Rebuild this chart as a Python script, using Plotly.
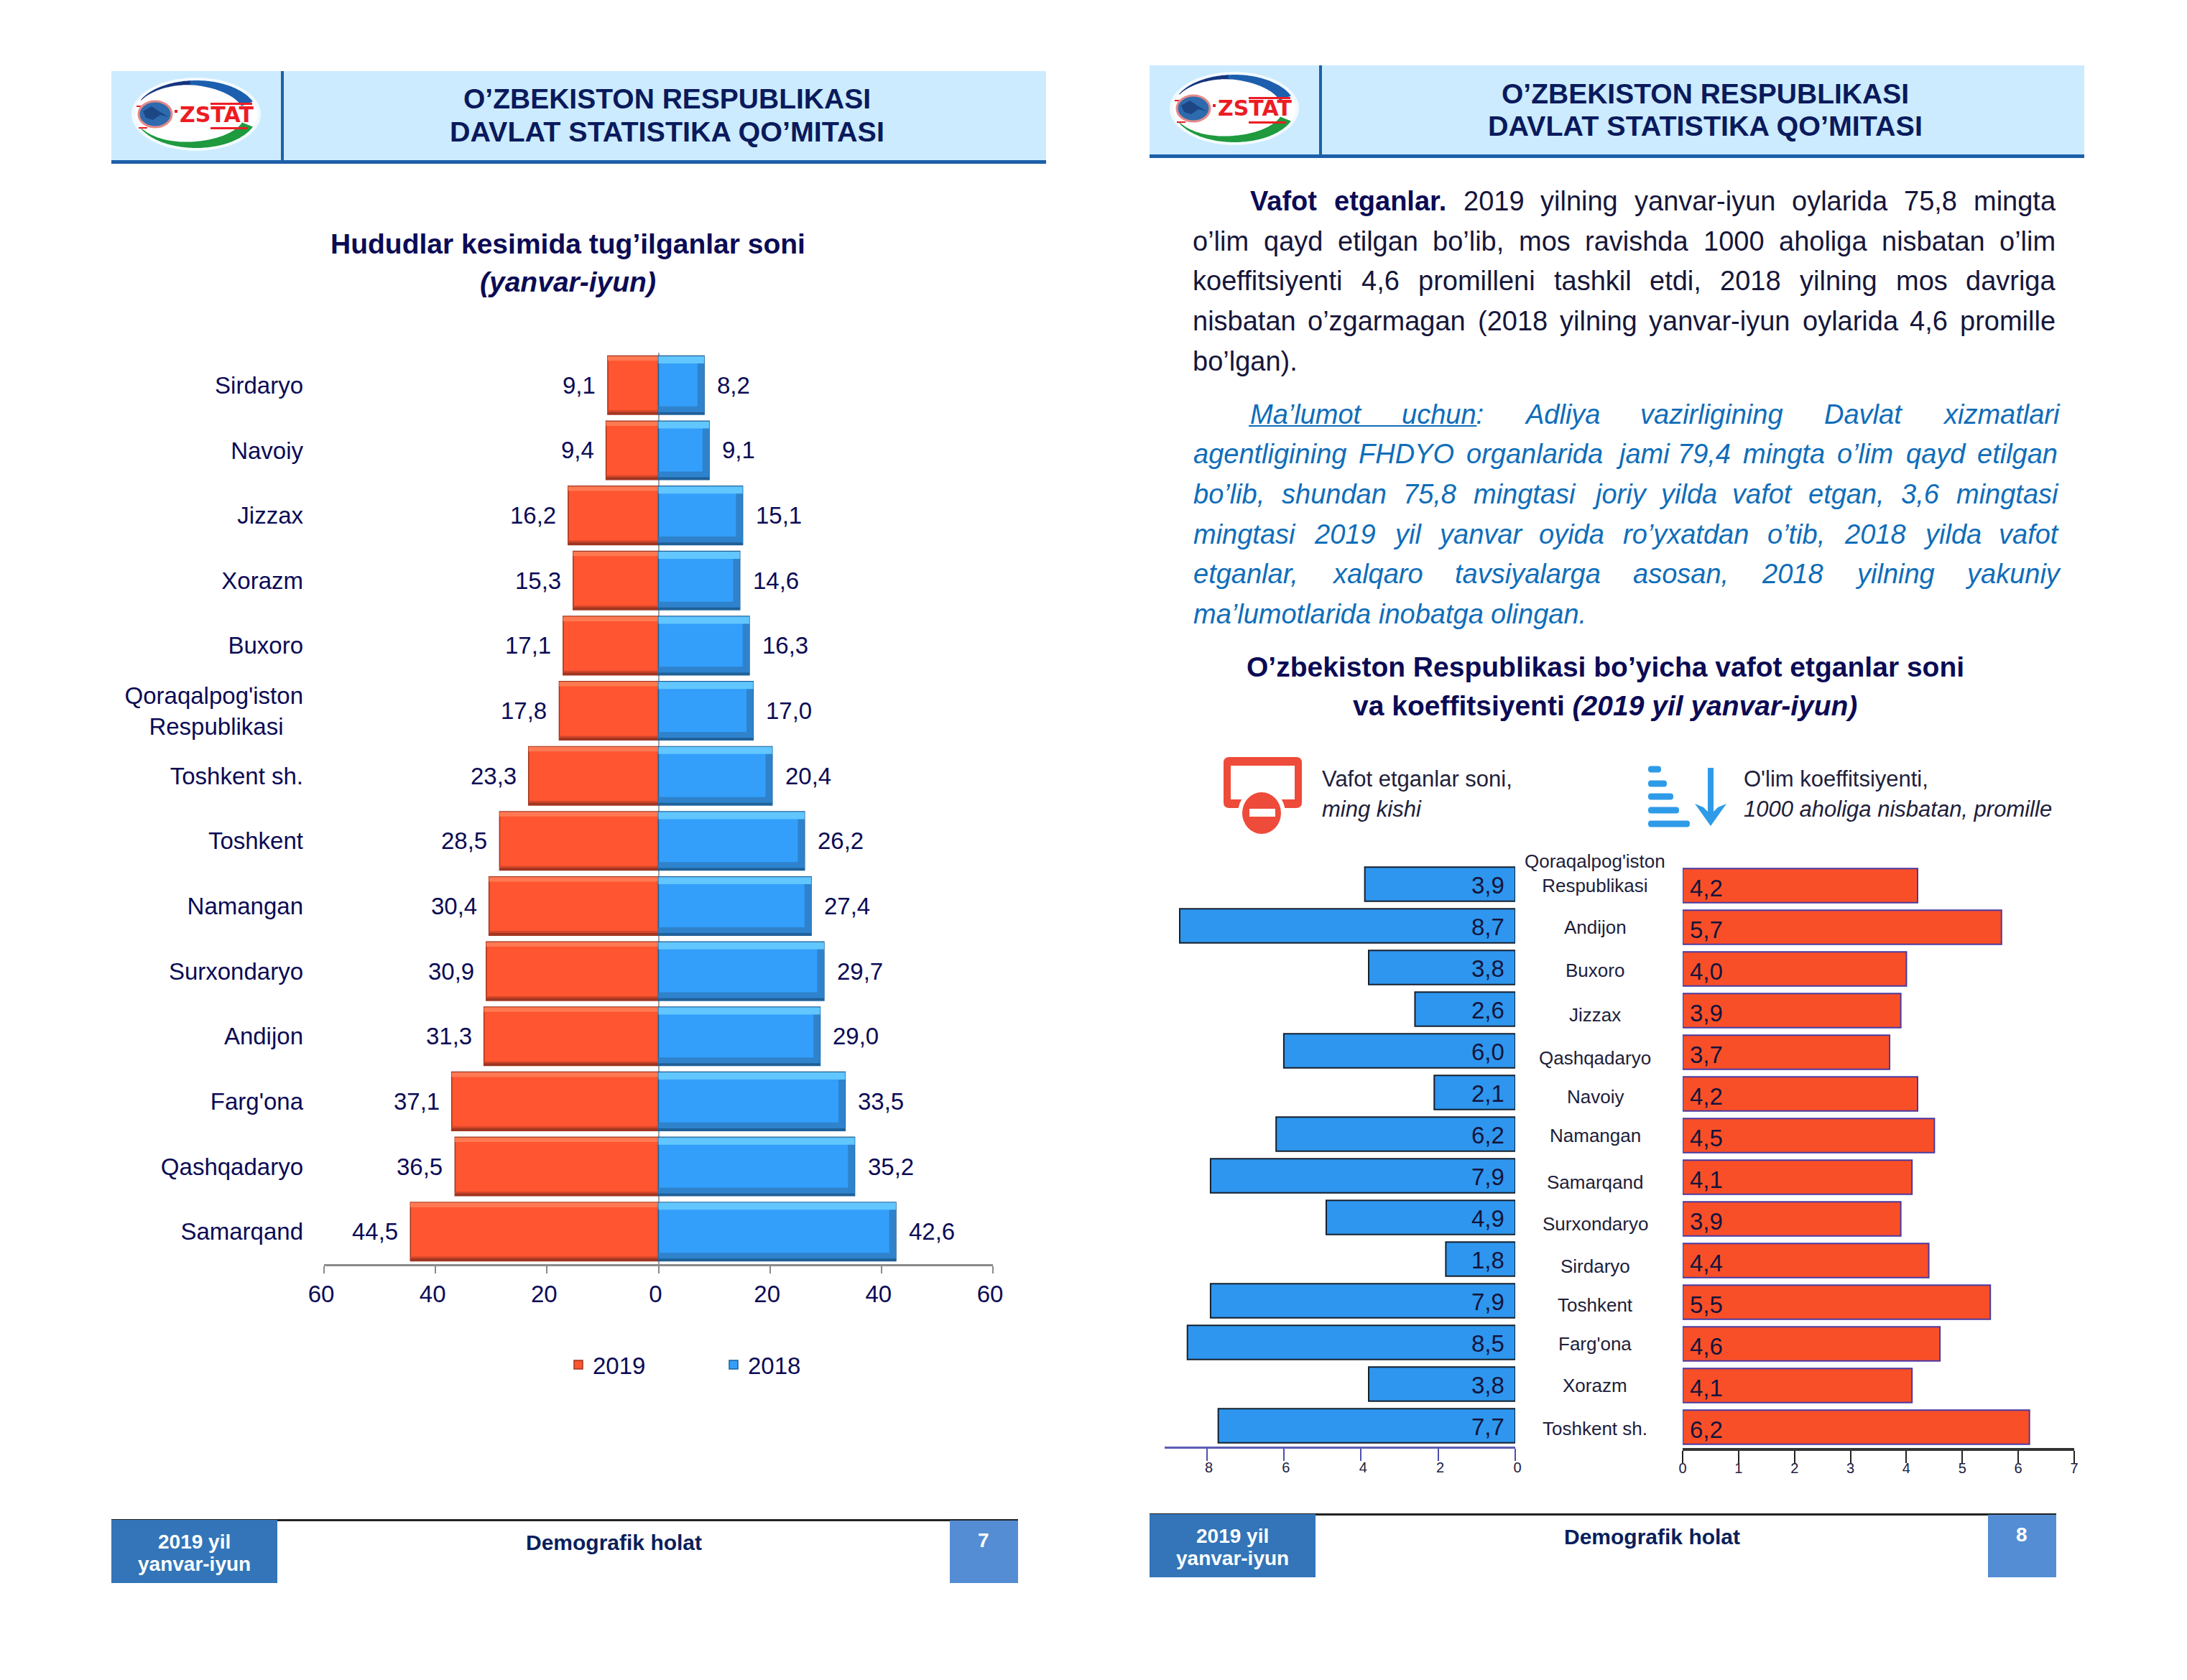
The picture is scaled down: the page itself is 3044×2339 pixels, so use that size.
import math
import plotly.graph_objects as go

W, H = 3044, 2339

# ---------- data ----------
birth_regions = ["Sirdaryo", "Navoiy", "Jizzax", "Xorazm", "Buxoro", "Qoraqalpog'iston Respublikasi",
                 "Toshkent sh.", "Toshkent", "Namangan", "Surxondaryo", "Andijon", "Farg'ona",
                 "Qashqadaryo", "Samarqand"]
births_2019 = [9.1, 9.4, 16.2, 15.3, 17.1, 17.8, 23.3, 28.5, 30.4, 30.9, 31.3, 37.1, 36.5, 44.5]
births_2018 = [8.2, 9.1, 15.1, 14.6, 16.3, 17.0, 20.4, 26.2, 27.4, 29.7, 29.0, 33.5, 35.2, 42.6]
birth_ticks = [-60, -40, -20, 0, 20, 40, 60]

death_regions = ["Qoraqalpog'iston Respublikasi", "Andijon", "Buxoro", "Jizzax", "Qashqadaryo", "Navoiy",
                 "Namangan", "Samarqand", "Surxondaryo", "Sirdaryo", "Toshkent", "Farg'ona", "Xorazm",
                 "Toshkent sh."]
deaths_thousand = [3.9, 8.7, 3.8, 2.6, 6.0, 2.1, 6.2, 7.9, 4.9, 1.8, 7.9, 8.5, 3.8, 7.7]
death_rate = [4.2, 5.7, 4.0, 3.9, 3.7, 4.2, 4.5, 4.1, 3.9, 4.4, 5.5, 4.6, 4.1, 6.2]
label_nudge = [-17, 0, 2, 6, 8, 4, 0, 7, 7, 8, 4, 0, 0, 2]
death_ticks = [8, 6, 4, 2, 0]
rate_ticks = [0, 1, 2, 3, 4, 5, 6, 7]

para1 = ["Vafot etganlar. 2019 yilning yanvar-iyun oylarida 75,8 mingta",
         "o’lim qayd etilgan bo’lib, mos ravishda 1000 aholiga nisbatan o’lim",
         "koeffitsiyenti 4,6 promilleni tashkil etdi, 2018 yilning mos davriga",
         "nisbatan o’zgarmagan (2018 yilning yanvar-iyun oylarida 4,6 promille",
         "bo’lgan)."]
para2 = ["Ma’lumot uchun: Adliya vazirligining Davlat xizmatlari",
         "agentligining FHDYO organlarida jami 79,4 mingta o’lim qayd etilgan",
         "bo’lib, shundan 75,8 mingtasi joriy yilda vafot etgan, 3,6 mingtasi",
         "mingtasi 2019 yil yanvar oyida ro’yxatdan o’tib, 2018 yilda vafot",
         "etganlar, xalqaro tavsiyalarga asosan, 2018 yilning yakuniy",
         "ma’lumotlarida inobatga olingan."]

FONT = "Liberation Sans"
NAVY = "#0B0B55"
INK = "#14143C"
BODY_BLUE = "#0F6DB9"


def comma(v):
    return f"{v:.1f}".replace(".", ",")


def fx(px):
    return px / W


def fy(py):
    return 1 - py / H


annotations, shapes = [], []


def text(x, y, s, size=33, color=NAVY, anchor="center", valign="middle", family=FONT):
    annotations.append(dict(x=fx(x), y=fy(y), xref="paper", yref="paper", text=s, showarrow=False,
                            xanchor=anchor, yanchor=valign, align="center",
                            font=dict(family=family, size=size, color=color)))


def rect(x0, y0, x1, y1, fill, layer="below"):
    shapes.append(dict(type="rect", xref="paper", yref="paper", x0=fx(x0), x1=fx(x1), y0=fy(y0), y1=fy(y1),
                       fillcolor=fill, line=dict(width=0), layer=layer))


def ellipse(cx, cy, rx, ry, fill, line=None, lw=0):
    shapes.append(dict(type="circle", xref="paper", yref="paper", x0=fx(cx - rx), x1=fx(cx + rx),
                       y0=fy(cy + ry), y1=fy(cy - ry), fillcolor=fill,
                       line=dict(width=lw, color=line or fill)))


def poly(points, fill):
    d = "M" + "L".join(f"{fx(a):.5f},{fy(b):.5f}" for a, b in points) + "Z"
    shapes.append(dict(type="path", xref="paper", yref="paper", path=d, fillcolor=fill, line=dict(width=0)))


def crescent(cx, cy, rx, ry, a0, a1, t0, t1, fill, n=40):
    """Arc of an ellipse whose thickness runs from t0 (at a0) to t1 (at a1)."""
    outer, inner = [], []
    for i in range(n + 1):
        f = i / n
        a = math.radians(a0 + (a1 - a0) * f)
        t = t0 + (t1 - t0) * f
        outer.append((cx + rx * math.cos(a), cy - ry * math.sin(a)))
        inner.append((cx + (rx - t) * math.cos(a), cy - (ry - t) * math.sin(a)))
    poly(outer + inner[::-1], fill)


HELV = {" ": 278, "'": 191, "’": 222, "(": 333, ")": 333, ",": 278, "-": 333, ".": 278, ":": 278}
HELV.update({c: 556 for c in "0123456789abdeghnopqu"})
HELV.update({c: 500 for c in "cksvxyz"})
HELV.update({"f": 278, "i": 222, "j": 222, "l": 222, "m": 833, "r": 333, "t": 278, "w": 722,
             "A": 667, "D": 722, "F": 611, "H": 722, "M": 833, "O": 778, "V": 667, "Y": 667})


def word_width(w, size, bold=False):
    total = sum(HELV.get(c, 556) for c in w) * size / 1000
    return total * (1.06 if bold else 1)


def justified(line, x0, x1, y, size, color, italic=False, bold_words=0, justify=True):
    words = line.split(" ")
    widths = [word_width(w, size, i < bold_words) for i, w in enumerate(words)]
    gap = (x1 - x0 - sum(widths)) / (len(words) - 1) if justify and len(words) > 1 else size * 0.278
    x = x0
    starts = []
    for i, w in enumerate(words):
        s = w
        if italic:
            s = f"<i>{s}</i>"
        c = color
        if i < bold_words:
            s = f"<b>{s}</b>"
            c = NAVY
        text(x, y, s, size=size, color=c, anchor="left")
        starts.append(x)
        x += widths[i] + gap
    return starts, widths


def page_furniture(dx, dy, number):
    # header band
    rect(155 + dx, 99 + dy, 1456 + dx, 224 + dy, "#CCEBFF")
    rect(155 + dx, 223 + dy, 1456 + dx, 228 + dy, "#1D5FA9")
    rect(391 + dx, 99 + dy, 395 + dx, 228 + dy, "#1D5FA9")
    text(928 + dx, 138 + dy, "<b>O’ZBEKISTON RESPUBLIKASI</b>", size=39, color="#0A1A5C")
    text(928 + dx, 183 + dy, "<b>DAVLAT STATISTIKA QO’MITASI</b>", size=39.5, color="#0A1A5C")
    # logo
    cx, cy = 273 + dx, 159 + dy
    ellipse(cx, cy, 90, 51, "#F2FAFF")
    ellipse(cx, cy, 85, 47, "#FFFFFF")
    crescent(cx, cy, 85, 47, 155, 95, 1, 6, "#16357F")
    crescent(cx, cy, 85, 47, 96, 22, 6, 17, "#1C5FAE")
    crescent(cx, cy, 85, 47, 205, 270, 1, 9, "#1F9A3E")
    crescent(cx, cy, 85, 47, 269, 338, 9, 16, "#1F9A3E")
    rect(cx + 20, cy - 16, cx + 78, cy - 13, "#ED1C24", "above")
    rect(cx + 20, cy + 18, cx + 72, cy + 21, "#ED1C24", "above")
    rect(cx - 83, cy - 12, cx - 76, cy - 10, "#ED1C24", "above")
    rect(cx - 80, cy + 18, cx - 68, cy + 20, "#ED1C24", "above")
    ellipse(cx - 57, cy, 23, 18, "#2E6BAE", "#E58A88", 3)
    poly([(cx - 74, cy - 4), (cx - 62, cy - 11), (cx - 50, cy - 3), (cx - 38, cy + 4),
          (cx - 50, cy + 1), (cx - 60, cy + 8), (cx - 70, cy + 5)], "#1C4784")
    rect(cx - 30, cy - 6, cx - 26, cy - 2, "#ED1C24", "above")
    text(cx - 25, cy, "<b>ZSTAT</b>", size=30, color="#ED1C24", anchor="left", family="DejaVu Sans")
    # footer
    rect(155 + dx, 2115 + dy, 1417 + dx, 2118 + dy, "#222222")
    rect(155 + dx, 2116 + dy, 386 + dx, 2204 + dy, "#3375B8")
    rect(1322 + dx, 2117 + dy, 1417 + dx, 2204 + dy, "#548DD4")
    text(270 + dx, 2146 + dy, "<b>2019 yil</b>", size=28, color="#FFFFFF")
    text(270 + dx, 2177 + dy, "<b>yanvar-iyun</b>", size=28, color="#FFFFFF")
    text(854 + dx, 2147 + dy, "<b>Demografik holat</b>", size=30, color="#0A1F5C")
    text(1369 + dx, 2144 + dy, f"<b>{number}</b>", size=28, color="#FFFFFF")


page_furniture(0, 0, 7)
page_furniture(1445, -8, 8)

# ---------- titles ----------
text(790, 340, "<b>Hududlar kesimida tug’ilganlar soni</b>", size=39)
text(790, 392, "<b><i>(yanvar-iyun)</i></b>", size=39)
text(2234, 928, "<b>O’zbekiston Respublikasi bo’yicha vafot etganlar soni</b>", size=39)
text(2234, 982, "<b>va koeffitsiyenti <i>(2019 yil yanvar-iyun)</i></b>", size=39)

# ---------- paragraphs ----------
ys1 = [280, 336, 391, 447, 503]
ys2 = [577, 632, 688, 744, 799, 855]
for i, (ln, y) in enumerate(zip(para1, ys1)):
    justified(ln, 1738 if i == 0 else 1658, 2859, y, 38, "#16163A",
              bold_words=2 if i == 0 else 0, justify=i < 4)
for i, (ln, y) in enumerate(zip(para2, ys2)):
    st, wd = justified(ln, 1738 if i == 0 else 1659, 2862, y, 38, BODY_BLUE, italic=True, justify=i < 5)
    if i == 0:
        shapes.append(dict(type="line", xref="paper", yref="paper", x0=fx(st[0]), x1=fx(st[1] + wd[1] - 8),
                           y0=fy(593), y1=fy(593), line=dict(color=BODY_BLUE, width=2)))

# ---------- icon legends ----------
text(1838, 1084, "Vafot etganlar soni,", size=31, color="#20203A", anchor="left")
text(1838, 1126, "<i>ming kishi</i>", size=31, color="#20203A", anchor="left")
text(2425, 1084, "O'lim koeffitsiyenti,", size=31, color="#20203A", anchor="left")
text(2425, 1126, "<i>1000 aholiga nisbatan, promille</i>", size=31, color="#20203A", anchor="left")

ICON_RED, ICON_BLUE = "#EE4B3A", "#2E9BE8"
frame = ("M{a},{b}Q{a},{c} {d},{c}L{e},{c}Q{f},{c} {f},{b}L{f},{g}Q{f},{h} {e},{h}"
         "L{d},{h}Q{a},{h} {a},{g}Z")


def rounded(x0, y0, x1, y1, r, fill):
    d = frame.format(a=fx(x0), b=fy(y0 + r), c=fy(y0), d=fx(x0 + r), e=fx(x1 - r), f=fx(x1), g=fy(y1 - r), h=fy(y1))
    shapes.append(dict(type="path", xref="paper", yref="paper", path=d, fillcolor=fill, line=dict(width=0)))


rounded(1703, 1054, 1812, 1125, 8, ICON_RED)
rect(1713, 1066, 1802, 1113, "#FFFFFF", "above")
ellipse(1756, 1132, 33, 35, "#FFFFFF")
ellipse(1756, 1132, 27, 29, ICON_RED)
rect(1739, 1126, 1775, 1137, "#FFFFFF", "above")
for by, bw in zip([1071, 1091, 1109, 1128, 1147], [18, 26, 35, 43, 58]):
    rounded(2294, by - 4.5, 2294 + bw, by + 4.5, 4, ICON_BLUE)
poly([(2377, 1069), (2385, 1069), (2385, 1130), (2391, 1124), (2403, 1119), (2381, 1150), (2359, 1119), (2371, 1124),
      (2377, 1130)], ICON_BLUE)

# ---------- traces ----------
fig = go.Figure()
left_neg = [-v for v in births_2019]


def bevel(xs, cats, name, main, hi, lo, edge, hi_w, lo_w, end):
    fig.add_trace(go.Bar(x=xs, y=cats, orientation="h", name=name, width=0.9, offset=-0.45,
                         marker=dict(color=main, line=dict(color=edge, width=1.5)), xaxis="x", yaxis="y"))
    if end:
        fig.add_trace(go.Bar(x=[1.2] * len(xs), base=[v - 1.2 for v in xs], y=cats, orientation="h", width=0.88,
                             offset=-0.44, showlegend=False, marker=dict(color=lo, line=dict(width=0)),
                             xaxis="x", yaxis="y"))
    fig.add_trace(go.Bar(x=xs, y=cats, orientation="h", width=hi_w, offset=-0.445, showlegend=False,
                         marker=dict(color=hi, line=dict(width=0)), xaxis="x", yaxis="y"))
    fig.add_trace(go.Bar(x=xs, y=cats, orientation="h", width=lo_w, offset=0.445 - lo_w, showlegend=False,
                         marker=dict(color=lo, line=dict(width=0)), xaxis="x", yaxis="y"))
    fig.add_trace(go.Bar(x=xs, y=cats, orientation="h", width=0.03, offset=0.415, showlegend=False,
                         marker=dict(color=edge, line=dict(width=0)), xaxis="x", yaxis="y"))


bevel(left_neg, birth_regions, "2019", "#FF5530", "#FF7A52", "#D0462A", "#9E3520", 0.07, 0.06, False)
bevel(births_2018, birth_regions, "2018", "#339FFB", "#62C6FF", "#2F82CC", "#1E5F96", 0.11, 0.12, True)

fig.add_trace(go.Bar(x=deaths_thousand, y=death_regions, orientation="h", width=0.82, showlegend=False,
                     marker=dict(color="#2E96EE", line=dict(color="#15202E", width=2)), xaxis="x2", yaxis="y2"))
fig.add_trace(go.Bar(x=death_rate, y=death_regions, orientation="h", width=0.82, showlegend=False,
                     marker=dict(color="#F94F28", line=dict(color="#4A3AA0", width=2)), xaxis="x3", yaxis="y3"))

# value labels
for cat, v in zip(birth_regions, births_2019):
    annotations.append(dict(x=-v, y=cat, xref="x", yref="y", text=comma(v), showarrow=False, xanchor="right",
                            xshift=-15, font=dict(family=FONT, size=33, color=NAVY)))
for cat, v in zip(birth_regions, births_2018):
    annotations.append(dict(x=v, y=cat, xref="x", yref="y", text=comma(v), showarrow=False, xanchor="left",
                            xshift=16, font=dict(family=FONT, size=33, color=NAVY)))
for cat, v in zip(death_regions, deaths_thousand):
    annotations.append(dict(x=0, y=cat, xref="x2", yref="y2", text=comma(v), showarrow=False, xanchor="right",
                            xshift=-13, yshift=-1, font=dict(family=FONT, size=33, color=INK)))
for cat, v in zip(death_regions, death_rate):
    annotations.append(dict(x=0, y=cat, xref="x3", yref="y3", text=comma(v), showarrow=False, xanchor="left",
                            xshift=8, yshift=-3, font=dict(family=FONT, size=33, color=INK)))
for cat, dy in zip(death_regions, label_nudge):
    annotations.append(dict(x=fx(2220), y=cat, xref="paper", yref="y3", text=cat.replace(" R", "<br>R"),
                            showarrow=False, xanchor="center", yshift=-dy, align="center",
                            font=dict(family=FONT, size=26, color="#20203A")))

birth_labels = [c.replace(" R", "<br>R") + ("\u00a0\u00a0\u00a0" if " R" in c else "") for c in birth_regions]

GREY = "#8A8A8A"
fig.update_layout(
    width=W, height=H, margin=dict(l=0, r=0, t=0, b=0, autoexpand=False), autosize=False,
    paper_bgcolor="#FFFFFF", plot_bgcolor="rgba(0,0,0,0)", barmode="overlay", bargap=0.1,
    showlegend=True, hovermode=False,
    font=dict(family=FONT, size=33, color=NAVY),
    legend=dict(orientation="h", x=fx(785), y=fy(1900), xanchor="left", yanchor="middle",
                entrywidth=171, entrywidthmode="pixels", bgcolor="rgba(0,0,0,0)",
                font=dict(family=FONT, size=33, color=NAVY), traceorder="normal"),
    xaxis=dict(domain=[fx(451), fx(1382)], range=[-60, 60], tickvals=birth_ticks,
               ticktext=[str(abs(t)) for t in birth_ticks], ticks="outside", ticklen=10, tickwidth=2,
               tickcolor=GREY, showline=True, linecolor=GREY, linewidth=3, showgrid=False, zeroline=True,
               zerolinecolor="#A0A0A0", zerolinewidth=2, anchor="y", ticklabelshift=-4,
               tickfont=dict(family=FONT, size=33, color=NAVY)),
    yaxis=dict(domain=[fy(1760), fy(491)], range=[13.5, -0.5], type="category", categoryorder="array",
               categoryarray=birth_regions, tickmode="array", tickvals=birth_regions, ticktext=birth_labels,
               ticks="", showline=False, showgrid=False, zeroline=False, anchor="x", ticklabelstandoff=28,
               tickfont=dict(family=FONT, size=33, color=NAVY)),
    xaxis2=dict(domain=[fx(1620.5), fx(2109)], range=[9.1, 0], tickvals=death_ticks, ticks="",
                minor=dict(ticks="outside", tickmode="array", tickvals=death_ticks, ticklen=17, tickwidth=1.5,
                           tickcolor="#5050B0"),
                showline=True, linecolor="#5D5DB5", linewidth=3,
                showgrid=False, zeroline=False, anchor="y2", ticklabelshift=-3, ticklabelstandoff=9,
                tickfont=dict(family=FONT, size=20, color="#202040")),
    yaxis2=dict(domain=[fy(2014), fy(1202)], range=[13.5, -0.5], type="category", categoryorder="array",
                categoryarray=death_regions, showticklabels=False, ticks="", showline=False, showgrid=False,
                zeroline=False, anchor="x2"),
    xaxis3=dict(domain=[fx(2342), fx(2887)], range=[0, 7], tickvals=rate_ticks, ticks="",
                minor=dict(ticks="outside", tickmode="array", tickvals=rate_ticks, ticklen=17, tickwidth=1.5,
                           tickcolor="#222222"),
                showline=True, linecolor="#333333", linewidth=4,
                showgrid=False, zeroline=False, anchor="y3", ticklabelstandoff=7,
                tickfont=dict(family=FONT, size=20, color="#202040")),
    yaxis3=dict(domain=[fy(2016), fy(1204)], range=[13.5, -0.5], type="category", categoryorder="array",
                categoryarray=death_regions, showticklabels=False, ticks="", showline=False, showgrid=False,
                zeroline=False, anchor="x3"),
    annotations=annotations, shapes=shapes,
)

fig.write_html("out.html", config=dict(displayModeBar=False),
               post_script="document.body.style.margin='0';document.documentElement.style.overflow='hidden';")
